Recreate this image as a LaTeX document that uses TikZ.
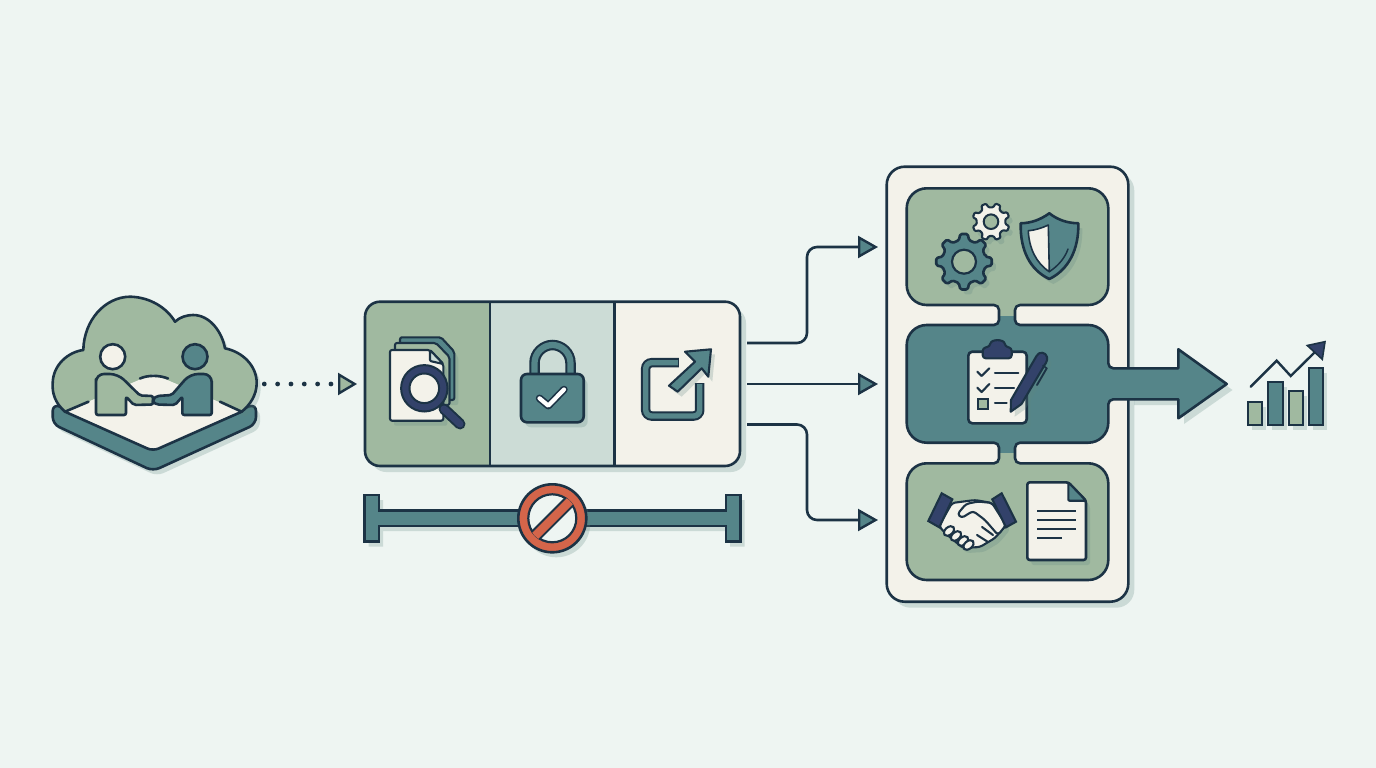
\documentclass[tikz,border=0pt]{standalone}
\usetikzlibrary{arrows.meta,shadows,calc}
\definecolor{bgc}{HTML}{EEF5F2}
\definecolor{sage}{HTML}{A0B9A0}
\definecolor{teal2}{HTML}{558589}
\definecolor{ink}{HTML}{1C3345}
\definecolor{cream}{HTML}{F3F2EA}
\definecolor{pale}{HTML}{CCDCD6}
\definecolor{navy}{HTML}{33426A}
\definecolor{orng}{HTML}{D4654A}
\definecolor{shad}{HTML}{5F8580}
\tikzset{
  x=1pt,y=-1pt,
  ln/.style={draw=ink,line width=2.6pt,line join=round,line cap=round},
  thin ln/.style={draw=ink,line width=2.1pt,line join=round,line cap=round},
  sh/.style={general shadow={shadow xshift=4pt,shadow yshift=-5pt,fill=shad,fill opacity=.24,draw=none}},
  conn/.style={draw=ink,line width=2.6pt,rounded corners=10pt,-{Triangle[length=20pt,width=22pt,fill=teal2,line width=2.4pt]}},
}
\newcommand{\gearshape}[7]{% cx cy rout rroot teeth phase style
  \path[#7] ({#1+#4*cos(#6-0.30*360/#5)},{#2+#4*sin(#6-0.30*360/#5)}) \foreach \k in {1,...,#5}{
    -- ({#1+#3*cos(#6+360*(\k-1)/#5-0.17*360/#5)},{#2+#3*sin(#6+360*(\k-1)/#5-0.17*360/#5)})
    -- ({#1+#3*cos(#6+360*(\k-1)/#5+0.17*360/#5)},{#2+#3*sin(#6+360*(\k-1)/#5+0.17*360/#5)})
    -- ({#1+#4*cos(#6+360*(\k-1)/#5+0.30*360/#5)},{#2+#4*sin(#6+360*(\k-1)/#5+0.30*360/#5)})
    -- ({#1+#4*cos(#6+360*\k/#5-0.30*360/#5)},{#2+#4*sin(#6+360*\k/#5-0.30*360/#5)})
  } -- cycle;
}
\begin{document}
\begin{tikzpicture}
\fill[bgc] (0,0) rectangle (1376,768);
\useasboundingbox (0,0) rectangle (1376,768);

% ---------- cloud + meeting ----------
\path[fill=teal2,ln,sh,rounded corners=7pt] (52.7,404) -- (52.7,424) -- (153,471) -- (256,424) -- (256,404) -- (153,440) -- cycle;
\path[fill=sage,sh] (65,411.7) .. controls (55,403) and (52,393) .. (52.7,383) .. controls (53,365) and (68,352) .. (83.3,350) .. controls (84,320) and (105,297) .. (130,296.7) .. controls (150,297) and (167,308) .. (175,321.7) .. controls (180,317) and (187,315) .. (193,315) .. controls (210,315) and (222,332) .. (225,348.3) .. controls (243,352) and (256.7,366) .. (256.7,383) .. controls (256.7,395) and (250,405) .. (241.7,411.7) -- (153,374) -- cycle;
\path[ln] (65,411.7) .. controls (55,403) and (52,393) .. (52.7,383) .. controls (53,365) and (68,352) .. (83.3,350) .. controls (84,320) and (105,297) .. (130,296.7) .. controls (150,297) and (167,308) .. (175,321.7) .. controls (180,317) and (187,315) .. (193,315) .. controls (210,315) and (222,332) .. (225,348.3) .. controls (243,352) and (256.7,366) .. (256.7,383) .. controls (256.7,395) and (250,405) .. (241.7,411.7);
\fill[cream,rounded corners=6pt] (65,411.7) -- (153,451) -- (241.7,411.7) -- (153,374) -- cycle;
\draw[ln,rounded corners=6pt] (65,411.7) -- (153,451) -- (241.7,411.7);
\draw[ln] (65,411.7) -- (88.5,401.7);
\draw[ln] (220,401.7) -- (241.7,411.7);
\draw[ln] (140,378.5) .. controls (148,375) and (159,375) .. (168,378.5);
% left person
\path[fill=sage,ln,rounded corners=3pt] (96,415) -- (96,382) [rounded corners=8pt] -- (96,374) -- (118,374) [rounded corners=2pt] -- (140,395.5) -- (153,396) -- (153,404.5) -- (134,405) -- (126,396.7) -- (126,415) -- cycle;
\node[circle,fill=cream,draw=ink,line width=2.6pt,minimum size=25pt,inner sep=0pt] (personA) at (112.7,356.7) {};
% right person
\path[fill=teal2,ln,rounded corners=2pt] (211.7,415) -- (211.7,383) [rounded corners=8pt] -- (211.7,374) -- (190,374) [rounded corners=2pt] -- (171.7,395) -- (157,396) [rounded corners=4pt] -- (151.7,400) -- (155,404.5) [rounded corners=2pt] -- (175,405) -- (182.3,396.7) -- (182.3,415) -- cycle;
\node[circle,fill=teal2,draw=ink,line width=2.6pt,minimum size=25pt,inner sep=0pt] (personB) at (195,356.7) {};
\coordinate (cloudout) at (264.3,384);

% ---------- three-cell panel ----------
\node[draw=none,fill=shad,fill opacity=.24,rounded corners=15pt,minimum width=375pt,minimum height=164pt,inner sep=0pt] (panelshadow) at (558.5,390) {};
\begin{scope}
\clip[rounded corners=15pt] (365,301.7) rectangle (740,466);
\fill[sage] (365,301.7) rectangle (490,466);
\fill[pale] (490,301.7) rectangle (614.7,466);
\fill[cream] (614.7,301.7) rectangle (740,466);
\end{scope}
\node[draw=ink,line width=2.6pt,rounded corners=15pt,minimum width=375pt,minimum height=164.3pt,inner sep=0pt] (panel) at (552.5,383.85) {};
\draw[ln,line cap=butt] (490,301.7) -- (490,466);
\draw[ln,line cap=butt] (614.7,301.7) -- (614.7,466);
\coordinate (panelin) at (357,384);
\coordinate (out1) at (747,343);
\coordinate (out2) at (747,384);
\coordinate (out3) at (747,424.5);

% documents + magnifier
\path[fill=teal2,thin ln,sh,rounded corners=2pt] (400,337.3) -- (441,337.3) -- (454.3,351.7) -- (454.3,400) -- (400,400) -- cycle;
\path[fill=sage,thin ln,rounded corners=2pt] (395,343) -- (436,343) -- (449.5,357) -- (449.5,405) -- (395,405) -- cycle;
\path[fill=cream,thin ln,rounded corners=2pt,sh] (390,350) -- (430,350) -- (443.3,364) -- (443.3,420.7) -- (390,420.7) -- cycle;
\path[fill=pale,thin ln,rounded corners=1pt] (430,350) -- (430,361) -- (443.3,364) -- cycle;
\draw[ink,line width=11pt,line cap=round] (444,409) -- (460,424);
\draw[navy,line width=7pt,line cap=round] (444,409) -- (460,424);
\node[circle,fill=cream,draw=navy,line width=8pt,minimum size=38pt,inner sep=0pt] (lens) at (424.3,388.3) {};
\draw[ink,line width=2pt] (424.3,388.3) circle[radius=23.2];
\draw[ink,line width=2pt] (424.3,388.3) circle[radius=14.8];

% padlock
\path[draw=ink,line width=10.5pt,line cap=butt] (534.5,376) -- (534.5,363) .. controls (534.5,353) and (543,345) .. (552.5,345) .. controls (562,345) and (570.5,353) .. (570.5,363) -- (570.5,376);
\path[draw=teal2,line width=6.2pt,line cap=butt] (534.5,376) -- (534.5,363) .. controls (534.5,353) and (543,345) .. (552.5,345) .. controls (562,345) and (570.5,353) .. (570.5,363) -- (570.5,376);
\path[fill=teal2,ln,sh,rounded corners=6pt] (521,374) rectangle (583.7,422.3);
\draw[ink,line width=7.5pt,line join=round,line cap=round] (539.5,398.3) -- (548.3,405.7) -- (564,389.5);
\draw[white,line width=4.2pt,line join=round,line cap=round] (539.5,398.3) -- (548.3,405.7) -- (564,389.5);

% external link
\path[draw=ink,line width=9.5pt,rounded corners=6pt,line cap=butt] (678.8,362.7) -- (645.7,362.7) -- (645.7,416) -- (699.7,416) -- (699.7,383);
\path[draw=teal2,line width=5.4pt,rounded corners=6pt,line cap=butt] (677.8,362.7) -- (645.7,362.7) -- (645.7,416) -- (699.7,416) -- (699.7,384);
\path[fill=teal2,thin ln,sh] (669,385.7) -- (695,361.7) -- (685,351.7) -- (711,349.3) -- (708.3,376.7) -- (701.7,368.3) -- (677.7,391.7) -- cycle;

% blocked bar
\path[fill=teal2,ln,sh,line cap=butt,line join=miter] (364.7,495) -- (379,495) -- (379,510.7) -- (726,510.7) -- (726,495) -- (740.5,495) -- (740.5,541.7) -- (726,541.7) -- (726,526) -- (379,526) -- (379,541.7) -- (364.7,541.7) -- cycle;
\node[circle,fill=orng,draw=ink,line width=2.6pt,minimum size=68pt,inner sep=0pt,general shadow={shadow xshift=4pt,shadow yshift=-5pt,fill=shad,fill opacity=.24,draw=none}] (noentry) at (552.3,518.3) {};
\node[circle,fill=bgc,draw=ink,line width=2.2pt,minimum size=48pt,inner sep=0pt] (noentryin) at (552.3,518.3) {};
\begin{scope}
\clip (552.3,518.3) circle[radius=24.8];
\draw[ink,line width=12.5pt] (530,541) -- (575,496);
\draw[orng,line width=8.5pt] (530,541) -- (575,496);
\end{scope}

% ---------- tall container ----------
\node[draw=ink,fill=cream,line width=2.6pt,rounded corners=18pt,minimum width=241.6pt,minimum height=435pt,inner sep=0pt,general shadow={shadow xshift=6pt,shadow yshift=-6pt,fill=shad,fill opacity=.24,draw=none}] (container) at (1007.5,384.2) {};
\coordinate (in1) at (878,247);
\coordinate (in2) at (878,384);
\coordinate (in3) at (878,520);

% connectors
\draw[draw=ink,line width=4.8pt,line cap=round,dash pattern=on 0pt off 13.33pt,-{Triangle[length=19pt,width=22pt,fill=sage,line width=2.4pt]}] (cloudout) -- (panelin);
\draw[conn] (out1) -- (807,343) -- (807,247) -- (in1);
\draw[conn] (out2) -- (in2);
\draw[conn] (out3) -- (807,424.5) -- (807,520) -- (in3);

% ---------- joined boxes + arrow ----------
\newcommand{\joined}{
  [rounded corners=20pt] (1000,188.3) -- (1108.3,188.3) -- (1108.3,305) [rounded corners=5pt] -- (1015,305) -- (1015,325) [rounded corners=20pt] -- (1108.3,325) [rounded corners=5pt] -- (1108.3,368.3) [sharp corners] -- (1178.3,368.3) -- (1178.3,349.3) -- (1226.7,384) -- (1178.3,418.3) -- (1178.3,399.3) [rounded corners=5pt] -- (1108.3,399.3) [rounded corners=20pt] -- (1108.3,442.7) [rounded corners=5pt] -- (1015,442.7) -- (1015,463.3) [rounded corners=20pt] -- (1108.3,463.3) -- (1108.3,580) -- (906.7,580) -- (906.7,463.3) [rounded corners=5pt] -- (999,463.3) -- (999,442.7) [rounded corners=20pt] -- (906.7,442.7) -- (906.7,325) [rounded corners=5pt] -- (999,325) -- (999,305) [rounded corners=20pt] -- (906.7,305) -- (906.7,188.3) -- cycle
}
\fill[shad,fill opacity=.24] (1134,374) -- (1184,374) -- (1184,355) -- (1232.5,390) -- (1184,424) -- (1184,405) -- (1134,405) -- cycle;
\fill[cream] (1090,368.3) rectangle (1127,399.3);
\path[fill=teal2] \joined;
\begin{scope}
\clip (890,170) rectangle (1125,315);
\path[fill=sage] \joined;
\end{scope}
\begin{scope}
\clip (890,453) rectangle (1125,595);
\path[fill=sage] \joined;
\end{scope}
\path[ln] \joined;
\coordinate (blockA) at (1007,247);
\coordinate (blockB) at (1007,384);
\coordinate (blockC) at (1007,522);

% gears
\gearshape{964}{261.7}{28}{22}{8}{0}{fill=teal2,ln,sh,rounded corners=1.5pt}
\node[circle,fill=sage,draw=ink,line width=2.2pt,minimum size=24pt,inner sep=0pt] (gearA) at (964,261.7) {};
\gearshape{991}{221.7}{18.7}{14.5}{8}{22}{fill=cream,thin ln,sh,rounded corners=1pt}
\node[circle,fill=sage,draw=ink,line width=2pt,minimum size=14.6pt,inner sep=0pt] (gearB) at (991,221.7) {};

% shield
\path[fill=teal2,ln,sh] (1049.3,213.3) .. controls (1040,220) and (1031,223) .. (1020.7,223.3) .. controls (1020,250) and (1030,270) .. (1049.3,279) .. controls (1068,270) and (1079,250) .. (1078.3,223.3) .. controls (1067,223) and (1058,220) .. (1049.3,213.3) -- cycle;
\path[fill=cream,draw=ink,line width=1.6pt,line join=round] (1048.3,225) .. controls (1042,228) and (1036,230) .. (1028.3,230.7) .. controls (1029,248) and (1036,263) .. (1049.3,271.7) -- cycle;
\draw[ink,line width=1.5pt,line cap=round] (1049.3,271.7) .. controls (1058,266) and (1065,258) .. (1068,249);

% clipboard + pen
\path[fill=cream,ln,sh,rounded corners=4pt] (968.3,351.7) rectangle (1026.7,423.3);
\path[fill=navy,thin ln,rounded corners=3pt] (982.7,358.3) -- (982.7,348) -- (990,346.5) .. controls (991,339) and (1004,339) .. (1005,346.5) -- (1011.7,348) -- (1011.7,358.3) -- cycle;
\draw[thin ln] (977.3,371.7) -- (981.7,376) -- (989.3,368.3);
\draw[thin ln] (977.3,387.7) -- (981.7,392) -- (989.3,384);
\path[fill=sage,thin ln,line join=miter] (977.7,399) rectangle (988.3,409.3);
\draw[thin ln] (995,373.3) -- (1018.3,373.3);
\draw[thin ln] (995,388.3) -- (1014,388.3);
\draw[thin ln] (995,403.3) -- (1006.7,403.3);
\path[fill=navy,thin ln,sh] (1010.7,411.7) -- (1011,400) -- (1036.5,356) .. controls (1039,351) and (1046,352) .. (1047,357) .. controls (1047.5,359) and (1047,361) .. (1046,362.7) -- (1021.5,404) -- cycle;
\draw[ink,line width=1.9pt,line cap=round] (1046.7,368.3) -- (1037,385);
\draw[ink,line width=1.6pt,line cap=round] (1043,365.5) -- (1046.7,368.3);

% handshake
\path[fill=cream,thin ln,sh,rounded corners=3pt] (952,503) -- (975,500) -- (992,503) -- (1006,525) -- (995,538) -- (980,547) -- (963,548) -- (945,533) -- (939,526) -- cycle;
\foreach \px/\py/\nm in {949/531/fA,956/536/fB,963/541/fC,968.5/545/fD}{
  \draw[fill=cream,thin ln,rotate around={40:(\px,\py)}] (\px,\py) ellipse[x radius=6pt,y radius=3.8pt];
}
\path[fill=cream,thin ln,rounded corners=3pt] (957.5,514) -- (966,504) -- (978,501.5) -- (992,503) -- (1006,525) -- (998,535) -- (985,520) -- (973,511) -- (961.5,518) -- cycle;
\path[thin ln] (982,527) -- (993,535);
\path[thin ln] (977,535) -- (988,542);
\path[fill=navy,thin ln,line join=miter] (941.7,493.3) -- (952.3,499.3) -- (939.3,527.3) -- (928.3,521) -- cycle;
\path[fill=navy,thin ln,line join=miter] (992.3,499.3) -- (1001.7,493.3) -- (1016,521.7) -- (1006,527.3) -- cycle;

% document
\path[fill=cream,ln,sh,rounded corners=2.5pt] (1027.3,482.3) -- (1068.3,482.3) -- (1086,500.7) -- (1086,560) -- (1027.3,560) -- cycle;
\path[fill=teal2,thin ln,rounded corners=1pt] (1068.3,482.3) -- (1068.3,500.7) -- (1086,500.7) -- cycle;
\foreach \ly/\lx in {511/1075.7,520/1075.7,528.7/1075.7,537.7/1061.7}{
  \draw[ink,line width=2pt] (1037.3,\ly) -- (\lx,\ly);
}

% chart
\path[fill=sage,thin ln,sh,line join=miter] (1248.3,401.7) rectangle (1262.3,425);
\path[fill=teal2,thin ln,sh,line join=miter] (1268.3,381.7) rectangle (1282.7,425);
\path[fill=sage,thin ln,sh,line join=miter] (1289,391) rectangle (1303.3,425);
\path[fill=teal2,thin ln,sh,line join=miter] (1309.3,368.3) rectangle (1323.3,425);
\draw[ink,line width=2.4pt,line cap=round,line join=miter] (1250.7,386.7) -- (1276.7,360.7) -- (1290.7,376) -- (1314,353);
\path[fill=navy,draw=ink,line width=1.6pt,line join=miter] (1325,341.7) -- (1307.3,345.5) -- (1322.3,359.3) -- cycle;
\end{tikzpicture}
\end{document}
